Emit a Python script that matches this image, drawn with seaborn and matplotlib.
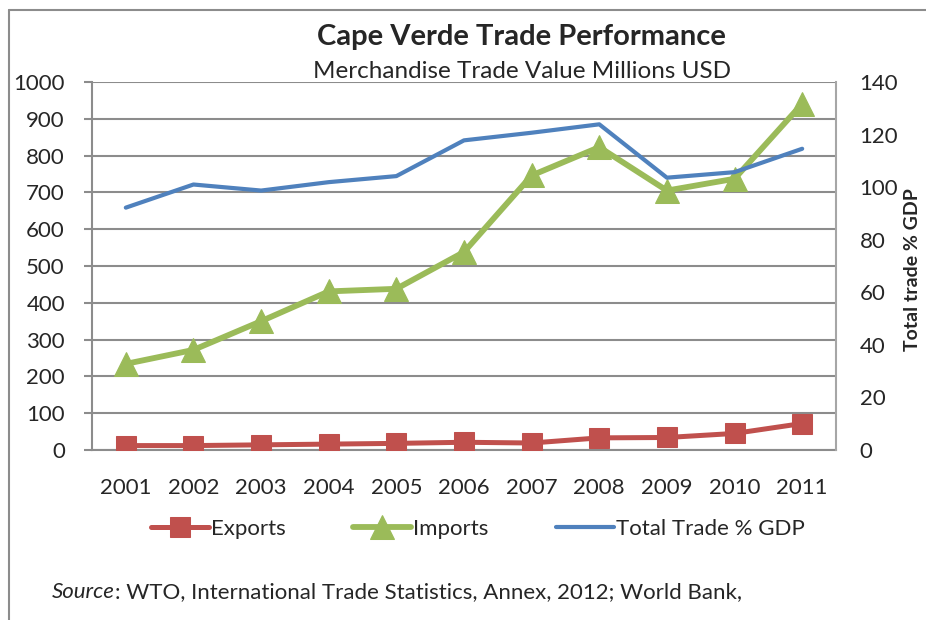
import matplotlib
matplotlib.use("Agg")
import matplotlib.pyplot as plt
import seaborn as sns
import pandas as pd
from matplotlib.lines import Line2D

# data
years = [2001, 2002, 2003, 2004, 2005, 2006, 2007, 2008, 2009, 2010, 2011]
exports = [12, 12, 14, 16, 18, 21, 19, 33, 34, 45, 72]
imports = [234, 272, 350, 431, 438, 538, 746, 823, 705, 737, 941]
trade_gdp = [92.2, 101.0, 98.7, 101.9, 104.2, 117.8, 120.7, 123.9, 103.6, 105.7, 114.6]

df = pd.DataFrame({'Year': years, 'Exports': exports, 'Imports': imports,
                   'Trade': trade_gdp})

red = '#C0504D'
green = '#9BBB59'
blue = '#4F81BD'
grid_c = '#8C8C8C'

sns.set_style('white')
plt.rcParams['font.family'] = ['Lato', 'DejaVu Sans']

W, H = 926, 620
fig = plt.figure(figsize=(W / 100, H / 100), dpi=100)
ax = fig.add_axes([92 / W, 1 - 450 / H, (836 - 92) / W, (450 - 82) / H])
ax2 = ax.twinx()

sns.lineplot(data=df, x='Year', y='Exports', ax=ax, color=red, lw=3.6,
             marker='s', markersize=15, markeredgecolor=red, zorder=4, label='Exports')
sns.lineplot(data=df, x='Year', y='Imports', ax=ax, color=green, lw=4.2,
             marker='^', markersize=17, markeredgecolor=green, zorder=3, label='Imports')
sns.lineplot(data=df, x='Year', y='Trade', ax=ax2, color=blue, lw=3.0,
             zorder=3, label='Total Trade % GDP')

ax.set_xlim(2000.5, 2011.5)
ax.set_ylim(0, 1000)
ax2.set_ylim(0, 140)
ax.set_yticks(range(0, 1001, 100))
ax2.set_yticks(range(0, 141, 20))
ax.set_xticks(years)
ax.set_xticklabels([str(y) for y in years])
ax.set_xticks([y + 0.5 for y in years[:-1]], minor=True)
ax.set_xlabel('')
ax.set_ylabel('')

ax.grid(axis='y', color=grid_c, lw=1.5)
ax.set_axisbelow(True)
for a in (ax, ax2):
    for s in a.spines.values():
        s.set_visible(False)
ax.spines['left'].set_visible(True)
ax.spines['left'].set_color(grid_c)
ax.spines['left'].set_linewidth(1.5)
ax2.spines['right'].set_visible(True)
ax2.spines['right'].set_color('#A6A6A6')
ax2.spines['right'].set_linewidth(1.5)
ax.spines['bottom'].set_visible(True)
ax.spines['bottom'].set_color(grid_c)
ax.spines['bottom'].set_linewidth(1.5)

ax.tick_params(axis='y', labelsize=16, length=6, width=1.5, color=grid_c, pad=13.5)
ax.tick_params(axis='x', which='major', labelsize=16, length=0, pad=20)
ax.tick_params(axis='x', which='minor', length=6, width=1.5, color=grid_c)
ax2.tick_params(axis='y', labelsize=16, length=0, pad=17)

# right axis title, placed by hand so it stays inside the figure
ax2.set_ylabel('')
fig.text(912 / W, 1 - 270 / H, 'Total trade % GDP', rotation=90, ha='center',
         va='center', fontsize=14, fontweight='bold')

for a in (ax, ax2):
    if a.get_legend():
        a.get_legend().remove()

h1, l1 = ax.get_legend_handles_labels()
h2, l2 = ax2.get_legend_handles_labels()
fig.legend(h1 + h2, l1 + l2, loc='center', bbox_to_anchor=(478 / W, 1 - 529 / H),
           ncol=3, frameon=False, fontsize=16, handlelength=2.6, columnspacing=3.05,
           handletextpad=0.1)

fig.text(521 / W, 1 - 37 / H, 'Cape Verde Trade Performance', ha='center', va='center',
         fontsize=21, fontweight='bold')
fig.text(522 / W, 1 - 72 / H, 'Merchandise Trade Value Millions USD', ha='center',
         va='center', fontsize=17.5)

# source line: italic "Source" then the rest
src = fig.text(52 / W, 1 - 592 / H, 'Source', ha='left', va='center', fontsize=16,
               style='italic')
fig.canvas.draw()
bb = src.get_window_extent()
fig.text(bb.x1 / W, 1 - 592 / H, ': WTO, International Trade Statistics, Annex, 2012; World Bank,',
         ha='left', va='center', fontsize=16)

# chart frame (left and top only visible)
fig.add_artist(Line2D([9 / W, 9 / W], [0, 1 - 10 / H], color='#8C8C8C', lw=1.5,
                      transform=fig.transFigure))
fig.add_artist(Line2D([9 / W, 1], [1 - 10 / H, 1 - 10 / H], color='#8C8C8C', lw=1.5,
                      transform=fig.transFigure))

fig.savefig('out.png', dpi=100)
